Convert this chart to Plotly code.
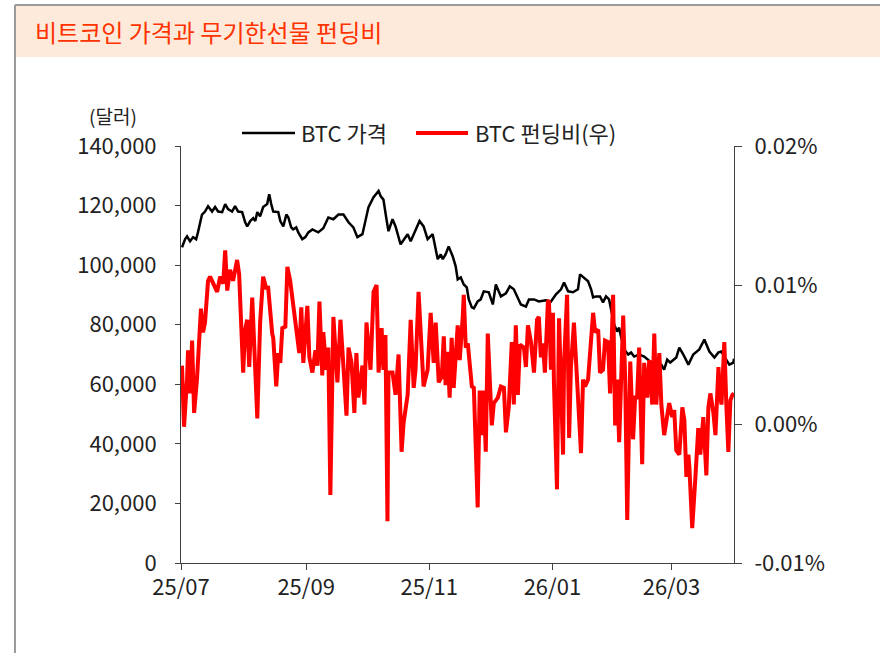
import plotly.graph_objects as go
import pandas as pd

FONT = "Noto Sans CJK KR"
START = "2025-07-01"

# BTC price (USD), days since 2025-07-01
price_day = [0.5, 2, 3, 4.5, 6, 7.5, 8.4, 10.4, 11.9, 13.4,
             15.4, 16.9, 18.4, 20.4, 21.9, 23.3, 25.3, 26.8, 28.3, 30.3,
             31.8, 32.8, 34.3, 35.8, 36.8, 37.8, 39.2, 40.7, 42.7, 43.7,
             44.7, 45.7, 48.2, 49.2, 50.7, 52.2, 53.2, 54.6, 55.6, 57.1,
             58.1, 60.1, 61.6, 63.1, 65.1, 68, 70.5, 73, 75.5, 78,
             80.5, 83, 85.4, 87.4, 89.9, 91.4, 92.9, 95.4, 97.9, 98.9,
             100.3, 101.8, 102.8, 104.8, 106.3, 108.8, 112.3, 113.8, 116.2, 118.2,
             120.2, 122.2, 124.7, 127.2, 128.7, 129.7, 131.1, 132.6, 134.6, 136.1,
             137.1, 138.6, 140.1, 141.6, 142.6, 144.1, 145.1, 147, 148.5, 150,
             152.5, 154.5, 156, 158.5, 161, 162.9, 164.9, 166.4, 168.4, 170.9,
             172.4, 174.9, 177.3, 180.8, 183.3, 185.8, 188.3, 189.8, 191.8, 194.2,
             196.7, 197.7, 199.7, 201.7, 203.2, 204.2, 205.7, 207.6, 209.1, 210.6,
             212.1, 213.1, 214.6, 216.1, 217.1, 218.1, 219.6, 221.6, 223, 224.5,
             227, 229.5, 231.5, 233, 235.5, 238, 239.4, 240.9, 242.4, 245.4,
             246.9, 248.9, 251.4, 253.8, 256.8, 259.3, 261.8, 264.3, 266.3, 267.8,
             269.2, 271.7, 273.7, 274]
price_usd = [106000, 108700, 109700, 108000, 109400, 108700, 111000, 117000, 118000, 119800,
             118000, 119500, 118000, 117800, 120500, 118800, 118000, 119800, 118000, 117800,
             114400, 113000, 114800, 115800, 114800, 117800, 116400, 119500, 120500, 123800,
             120500, 118000, 117800, 114800, 113000, 117000, 116000, 112700, 112000, 112700,
             111000, 108700, 109400, 111000, 112000, 111000, 112400, 116000, 115400, 117000,
             117000, 114400, 112700, 109400, 110400, 114800, 119500, 122800, 124900, 123200,
             122000, 115400, 111400, 115400, 113000, 107000, 110400, 108000, 112000, 114800,
             113000, 108700, 110400, 102000, 103600, 102000, 103600, 106300, 103000, 99600,
             95200, 95900, 93500, 92500, 88500, 85800, 85500, 87800, 88500, 91200,
             90900, 86800, 93500, 89500, 90500, 92900, 91900, 89500, 86800, 86100,
             88500, 88500, 87800, 88200, 87800, 90200, 91900, 94200, 91200, 90900,
             91900, 96900, 95900, 94600, 91900, 89200, 89500, 89500, 87500, 89500,
             88500, 85100, 80100, 77700, 79000, 75700, 71700, 70000, 70700, 69300,
             70000, 69300, 68300, 67300, 67300, 66600, 64900, 68300, 67300, 69000,
             72300, 70000, 66600, 70000, 71700, 75000, 71000, 69000, 70700, 71000,
             69300, 66600, 67300, 68600]

# BTC funding rate (%), days since 2025-07-01
fund_day = [0.5, 1.5, 3.0, 3.5, 4.5, 5.5, 6.5, 7.9, 9.9, 10.9,
            11.9, 13.4, 14.4, 15.9, 17.9, 19.4, 20.9, 21.9, 22.9, 24.3,
            25.8, 27.8, 28.8, 30.8, 31.8, 32.8, 33.8, 35.3, 37.8, 39.2,
            40.7, 42.2, 43.2, 45.2, 45.7, 47.2, 48.2, 49.2, 50.2, 51.7,
            52.7, 54.1, 55.6, 57.6, 58.6, 59.6, 60.6, 62.6, 63.6, 65.1,
            66.6, 67.6, 68.6, 70.0, 70.5, 72.0, 73.0, 74.0, 75.5, 77.5,
            79.0, 80.5, 82.0, 83.0, 84.5, 85.9, 86.9, 87.9, 89.9, 90.9,
            91.9, 93.9, 95.4, 96.9, 97.9, 99.4, 100.3, 101.3, 102.3, 102.8,
            104.8, 106.3, 107.8, 109.3, 110.3, 112.3, 113.8, 115.3, 116.2, 117.7,
            120.2, 122.2, 123.7, 125.2, 126.2, 127.7, 129.2, 130.2, 131.1, 132.1,
            133.1, 134.1, 135.1, 137.1, 138.1, 139.6, 140.1, 141.1, 142.1, 144.1,
            145.1, 147.0, 148.0, 149.5, 150.0, 151.0, 152.0, 154.0, 155.0, 157.0,
            158.5, 160.0, 161.0, 162.4, 163.9, 164.9, 165.9, 166.9, 167.9, 169.9,
            170.9, 171.9, 173.4, 174.9, 176.4, 177.3, 178.3, 179.3, 180.3, 181.8,
            182.3, 183.3, 184.3, 184.8, 186.3, 187.3, 189.3, 189.8, 191.3, 192.3,
            193.2, 194.7, 195.7, 196.7, 198.2, 199.2, 200.2, 201.7, 202.7, 204.2,
            205.2, 206.7, 207.6, 209.1, 210.1, 211.6, 212.6, 214.1, 215.1, 216.1,
            217.1, 219.1, 220.1, 221.1, 222.6, 224.0, 225.0, 226.0, 227.0, 228.5,
            229.5, 231.0, 232.0, 233.5, 234.5, 235.5, 237.0, 238.0, 239.4, 240.9,
            241.9, 243.4, 244.4, 245.4, 246.9, 248.4, 249.4, 250.4, 251.4, 251.9,
            253.3, 254.8, 256.3, 257.3, 258.8, 259.3, 260.3, 261.3, 262.3, 263.8,
            264.8, 266.3, 266.8, 267.8, 268.8, 269.2, 270.2, 271.2, 272.2, 273.2,
            274.0]
fund_pct = [0.0042, -0.0002, 0.0032, 0.0053, 0.0022, 0.0060, 0.0008, 0.0032, 0.0083, 0.0066,
            0.0073, 0.0103, 0.0106, 0.0101, 0.0095, 0.0106, 0.0101, 0.0125, 0.0096, 0.0111,
            0.0103, 0.0118, 0.0108, 0.0037, 0.0068, 0.0075, 0.0041, 0.0091, 0.0004, 0.0073,
            0.0106, 0.0098, 0.0098, 0.0065, 0.0062, 0.0027, 0.0051, 0.0044, 0.0069, 0.0070,
            0.0113, 0.0103, 0.0084, 0.0060, 0.0051, 0.0084, 0.0044, 0.0085, 0.0048, 0.0037,
            0.0053, 0.0042, 0.0088, 0.0035, 0.0066, 0.0039, 0.0055, -0.0051, 0.0077, 0.0030,
            0.0075, 0.0041, 0.0006, 0.0055, 0.0044, 0.0008, 0.0051, 0.0019, 0.0042, 0.0014,
            0.0073, 0.0039, 0.0095, 0.0100, 0.0037, 0.0069, 0.0039, 0.0064, -0.0070, 0.0037,
            0.0037, 0.0021, 0.0050, -0.0020, 0.0001, 0.0021, 0.0075, 0.0026, 0.0039, 0.0095,
            0.0027, 0.0039, 0.0080, 0.0044, 0.0073, 0.0030, 0.0034, 0.0063, 0.0028, 0.0052,
            0.0019, 0.0062, 0.0026, 0.0071, 0.0046, 0.0077, 0.0093, 0.0055, 0.0058, 0.0027,
            0.0026, -0.0060, 0.0024, -0.0008, 0.0024, -0.0020, 0.0065, -0.0001, 0.0015, 0.0019,
            0.0027, 0.0026, -0.0006, 0.0012, 0.0059, 0.0014, 0.0071, 0.0021, 0.0057, 0.0055,
            0.0041, 0.0071, 0.0059, 0.0037, 0.0075, 0.0077, 0.0048, 0.0058, 0.0037, 0.0088,
            0.0089, 0.0039, 0.0080, 0.0029, -0.0047, 0.0076, -0.0022, 0.0044, 0.0093, -0.0010,
            0.0041, 0.0073, 0.0042, 0.0015, -0.0021, 0.0032, 0.0027, 0.0032, 0.0055, 0.0080,
            0.0066, 0.0068, 0.0037, 0.0039, 0.0060, 0.0059, 0.0022, 0.0093, -0.0001, 0.0032,
            -0.0013, 0.0078, 0.0032, -0.0069, 0.0045, -0.0011, 0.0019, 0.0019, 0.0055, -0.0029,
            0.0044, 0.0019, 0.0046, 0.0014, 0.0065, 0.0014, 0.0051, 0.0014, -0.0008, 0.0008,
            0.0015, 0.0005, 0.0010, -0.0019, -0.0022, 0.0012, 0.0003, -0.0038, -0.0022, -0.0031,
            -0.0075, -0.0040, -0.0003, -0.0022, 0.0005, -0.0009, -0.0037, 0.0012, 0.0022, 0.0008,
            -0.0008, 0.0041, 0.0024, 0.0014, 0.0044, 0.0059, 0.0014, -0.0020, 0.0017, 0.0021,
            0.0022]

x_tick_dates = ["2025-07-01", "2025-09-01", "2025-11-01", "2026-01-01", "2026-03-01"]
x_tick_labels = ["25/07", "25/09", "25/11", "26/01", "26/03"]
x_range = ["2025-07-01", "2026-04-01"]
left_ticks = [0, 20000, 40000, 60000, 80000, 100000, 120000, 140000]
right_ticks = [-0.01, 0.0, 0.01, 0.02]
right_tick_labels = ["-0.01%", "0.00%", "0.01%", "0.02%"]

title_text = "비트코인 가격과 무기한선물 펀딩비"
unit_text = "(달러)"
name_price = "BTC 가격"
name_fund = "BTC 펀딩비(우)"

start = pd.Timestamp(START)
price_x = start + pd.to_timedelta(price_day, unit="D")
fund_x = start + pd.to_timedelta(fund_day, unit="D")

W, H = 880, 653
L, R, T, B = 181, 146, 146, 90
pw = W - L - R
ph = H - T - B


def px2x(p):
    return (p - L) / pw


def px2y(p):
    return (H - B - p) / ph


fig = go.Figure()
fig.add_trace(go.Scatter(x=price_x, y=price_usd, mode="lines", name=name_price,
                         line=dict(color="#000000", width=2.5), yaxis="y"))
fig.add_trace(go.Scatter(x=fund_x, y=fund_pct, mode="lines", name=name_fund,
                         line=dict(color="#FF0000", width=4), yaxis="y2"))

axis_col = "#404040"
tick_font = dict(family=FONT, size=22, color="#222222")

fig.update_layout(
    width=W, height=H, autosize=False,
    margin=dict(l=L, r=R, t=T, b=B, pad=0),
    paper_bgcolor="white", plot_bgcolor="white",
    showlegend=False,
    font=dict(family=FONT, size=21, color="#222222"),
    xaxis=dict(type="date", range=x_range, tickvals=x_tick_dates, ticktext=x_tick_labels,
               showgrid=False, zeroline=False, showline=True, linecolor=axis_col, linewidth=1,
               ticks="outside", ticklen=6, tickcolor=axis_col, tickfont=tick_font,
               ticklabelstandoff=-1),
    yaxis=dict(range=[0, 140000], tickvals=left_ticks, tickformat=",d",
               showgrid=False, zeroline=False, showline=True, linecolor=axis_col, linewidth=1,
               ticks="outside", ticklen=5, tickcolor=axis_col, tickfont=tick_font,
               ticklabelstandoff=14),
    yaxis2=dict(range=[-0.01, 0.02], tickvals=right_ticks, ticktext=right_tick_labels,
                overlaying="y", side="right", showgrid=False, zeroline=False,
                showline=True, linecolor=axis_col, linewidth=1,
                ticks="outside", ticklen=7, tickcolor=axis_col, tickfont=tick_font,
                ticklabelstandoff=8),
)

shapes = [
    # title band
    dict(type="rect", xref="paper", yref="paper", x0=px2x(15), x1=px2x(882), y0=px2y(57), y1=px2y(5),
         fillcolor="#FDEADA", line=dict(width=0), layer="below"),
    # frame
    dict(type="line", xref="paper", yref="paper", x0=px2x(15), x1=px2x(15), y0=px2y(5), y1=px2y(655),
         line=dict(color="#9A9A9A", width=2)),
    dict(type="line", xref="paper", yref="paper", x0=px2x(15), x1=px2x(882), y0=px2y(5), y1=px2y(5),
         line=dict(color="#9A9A9A", width=2)),
    # legend samples
    dict(type="line", xref="paper", yref="paper", x0=px2x(242), x1=px2x(295), y0=px2y(133), y1=px2y(133),
         line=dict(color="#000000", width=2.5)),
    dict(type="line", xref="paper", yref="paper", x0=px2x(416), x1=px2x(468), y0=px2y(133), y1=px2y(133),
         line=dict(color="#FF0000", width=4)),
]
fig.update_layout(shapes=shapes)

annotations = [
    dict(text=title_text, xref="paper", yref="paper", x=px2x(33), y=px2y(32), xanchor="left",
         yanchor="middle", showarrow=False, font=dict(family=FONT, size=24, color="#FF3300")),
    dict(text=unit_text, xref="paper", yref="paper", x=px2x(113), y=px2y(115), xanchor="center",
         yanchor="middle", showarrow=False, font=dict(family=FONT, size=19, color="#222222")),
    dict(text=name_price, xref="paper", yref="paper", x=px2x(299), y=px2y(132), xanchor="left",
         yanchor="middle", showarrow=False, font=dict(family=FONT, size=22, color="#222222")),
    dict(text=name_fund, xref="paper", yref="paper", x=px2x(473), y=px2y(132), xanchor="left",
         yanchor="middle", showarrow=False, font=dict(family=FONT, size=22, color="#222222")),
]
fig.update_layout(annotations=annotations)

fig.write_html("out.html",
               config={"displayModeBar": False},
               post_script="document.body.style.margin='0';document.body.style.padding='0';")
